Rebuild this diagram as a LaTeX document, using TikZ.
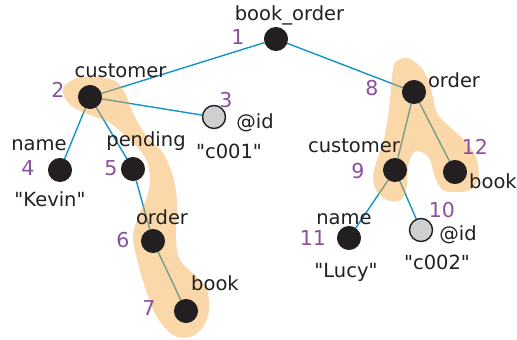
\documentclass[tikz,border=0pt]{standalone}
\usepackage{fontspec}
\setmainfont{DejaVu Sans}[Ligatures=TeXOff]
\begin{document}
\definecolor{ink}{RGB}{35,31,32}
\definecolor{numc}{RGB}{138,80,160}
\definecolor{edgec}{RGB}{20,148,196}
\definecolor{attrc}{RGB}{206,207,209}
\definecolor{hlc}{RGB}{245,168,64}
\pgfdeclarelayer{edges}
\pgfdeclarelayer{blobs}
\pgfsetlayers{edges,blobs,main}
\begin{tikzpicture}[x=1pt,y=-1pt,
  elem/.style={circle,fill=ink,draw=ink,line width=1pt,minimum size=23pt,inner sep=0pt},
  attr/.style={circle,fill=attrc,draw=ink,line width=1.4pt,minimum size=23pt,inner sep=0pt},
  lbl/.style={anchor=base,inner sep=0pt,text=ink,font=\fontsize{19.5}{21}\selectfont},
  num/.style={anchor=base,inner sep=0pt,text=numc,font=\fontsize{20.5}{22}\selectfont},
  tedge/.style={draw=edgec,line width=1.4pt},
  hl/.style={fill=hlc,fill opacity=0.45}]
\useasboundingbox (0,0) rectangle (517,340);

% tree nodes
\node[elem] (n1) at (276,39) {};
\node[elem] (n2) at (90,97) {};
\node[attr] (n3) at (214,117) {};
\node[elem] (n4) at (60,170) {};
\node[elem] (n5) at (133,169) {};
\node[elem] (n6) at (153,241) {};
\node[elem] (n7) at (186,311) {};
\node[elem] (n8) at (414,92) {};
\node[elem] (n9) at (395,170) {};
\node[attr] (n10) at (421,230) {};
\node[elem] (n11) at (349,238) {};
\node[elem] (n12) at (455,172) {};

% element names and values
\node[lbl] (t1) at (289.5,20) {book\_order};
\node[lbl] (t2) at (120.5,77) {customer};
\node[lbl] (t3) at (255,128) {@id};
\node[lbl] (v3) at (229,158) {"c001"};
\node[lbl] (t4) at (39,150) {name};
\node[lbl] (v4) at (50,206) {"Kevin"};
\node[lbl] (t5) at (146,146) {pending};
\node[lbl] (t6) at (162,224) {order};
\node[lbl] (t7) at (215,290) {book};
\node[lbl] (t8) at (454,87) {order};
\node[lbl] (t9) at (354,152) {customer};
\node[lbl] (t10) at (458,240) {@id};
\node[lbl] (v10) at (437,269) {"c002"};
\node[lbl] (t11) at (344,224) {name};
\node[lbl] (v11) at (346,277) {"Lucy"};
\node[lbl] (t12) at (493,188) {book};

% preorder numbers
\node[num] (k1) at (238,45) {1};
\node[num] (k2) at (58,97) {2};
\node[num] (k3) at (226,107) {3};
\node[num] (k4) at (28,175) {4};
\node[num] (k5) at (111,175) {5};
\node[num] (k6) at (123,247) {6};
\node[num] (k7) at (149,315) {7};
\node[num] (k8) at (372,95) {8};
\node[num] (k9) at (358,178) {9};
\node[num] (k10) at (442,217) {10};
\node[num] (k11) at (313,245) {11};
\node[num] (k12) at (475,154) {12};

% parent-child edges
\begin{pgfonlayer}{edges}
\draw[tedge] (n1) -- (n2);
\draw[tedge] (n1) -- (n8);
\draw[tedge] (n2) -- (n3);
\draw[tedge] (n2) -- (n4);
\draw[tedge] (n2) -- (n5);
\draw[tedge] (n5) -- (n6);
\draw[tedge] (n6) -- (n7);
\draw[tedge] (n8) -- (n9);
\draw[tedge] (n8) -- (n12);
\draw[tedge] (n9) -- (n11);
\draw[tedge] (n9) -- (n10);
\end{pgfonlayer}

% highlighted paths
\begin{pgfonlayer}{blobs}
\fill[hl] plot[smooth cycle,tension=0.6] coordinates {
  (65,85) (83,77) (113,80) (125,93) (133,113) (147,137) (163,153)
  (173,177) (177,203) (176,237) (180,260) (197,277) (207,290)
  (209,310) (203,327) (190,337) (173,335) (157,317) (147,293)
  (138,263) (133,237) (138,217) (147,197) (150,177) (145,157)
  (130,140) (110,123) (90,115) (73,107) (64,96)};
\fill[hl] plot[smooth cycle,tension=0.6] coordinates {
  (395,63) (405,58) (415,62) (425,73) (432,93) (437,113) (450,127)
  (467,143) (477,160) (478,180) (470,190) (457,192) (443,190)
  (435,177) (430,160) (422,152) (413,153) (408,167) (407,185)
  (402,199) (390,201) (378,193) (373,178) (377,160) (383,143)
  (387,123) (390,100) (392,77)};
\end{pgfonlayer}
\end{tikzpicture}
\end{document}
